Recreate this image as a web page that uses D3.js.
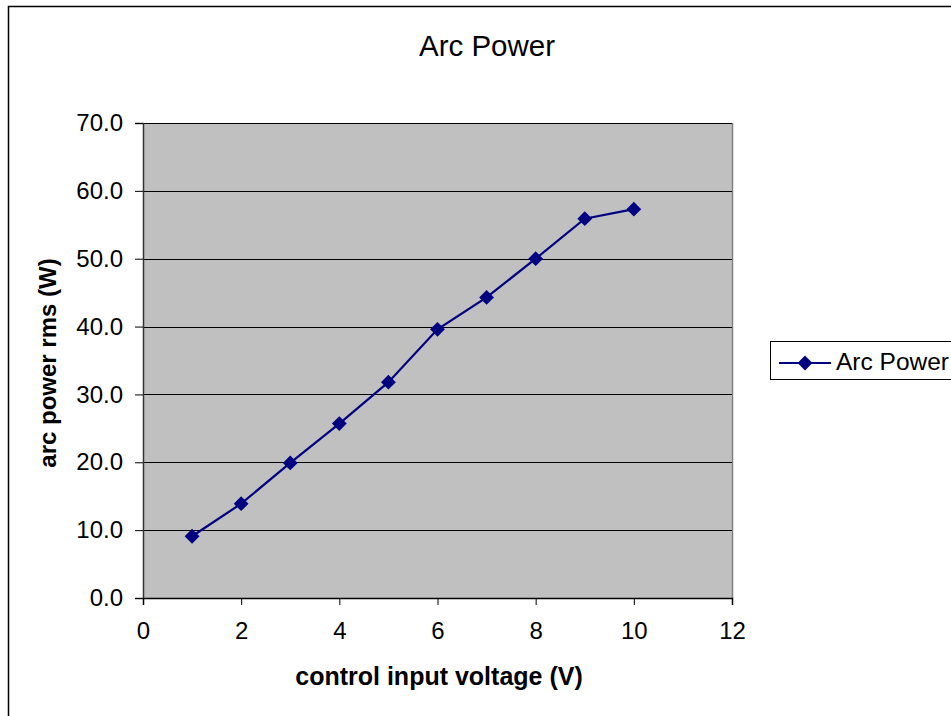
<!DOCTYPE html>
<html>
<head>
<meta charset="utf-8">
<script src="https://cdn.jsdelivr.net/npm/d3@7"></script>
<style>
  html, body { margin: 0; padding: 0; background: #fff; }
  svg { display: block; font-family: "Liberation Sans", Arial, sans-serif; }
</style>
</head>
<body>
<svg id="chart" width="951" height="716"></svg>
<script>
// Arc power measured against control input voltage
const voltage = [1, 2, 3, 4, 5, 6, 7, 8, 9, 10];
const arcPower = [9.1, 13.9, 19.9, 25.7, 31.8, 39.6, 44.3, 50.0, 55.9, 57.3];
const xTicks = [0, 2, 4, 6, 8, 10, 12];
const yTicks = [0, 10, 20, 30, 40, 50, 60, 70];
const seriesName = "Arc Power";

const svg = d3.select("#chart");
const W = 951, H = 716;
const plot = { left: 143, right: 732, top: 123, bottom: 598 };

// outer chart frame (runs past the right and bottom edges of the page)
svg.append("rect")
  .attr("x", 8.5).attr("y", 6.5)
  .attr("width", W + 20).attr("height", H + 20)
  .attr("fill", "#fff").attr("stroke", "#000").attr("stroke-width", 1.5);

const x = d3.scaleLinear().domain([0, 12]).range([plot.left, plot.right]);
const y = d3.scaleLinear().domain([0, 70]).range([plot.bottom, plot.top]);

// plot area background
svg.append("rect")
  .attr("x", plot.left).attr("y", plot.top)
  .attr("width", plot.right - plot.left).attr("height", plot.bottom - plot.top)
  .attr("fill", "#c0c0c0");

// right border of the plot area
svg.append("line")
  .attr("x1", plot.right + 0.5).attr("x2", plot.right + 0.5)
  .attr("y1", plot.top).attr("y2", plot.bottom)
  .attr("stroke", "#808080").attr("stroke-width", 1.5);

// horizontal gridlines
svg.append("g")
  .selectAll("line")
  .data(yTicks.filter(d => d > 0))
  .join("line")
  .attr("x1", plot.left).attr("x2", plot.right)
  .attr("y1", d => Math.round(y(d)) + 0.5).attr("y2", d => Math.round(y(d)) + 0.5)
  .attr("stroke", "#000").attr("stroke-width", 1);

// y axis
const yAxis = svg.append("g")
  .attr("transform", `translate(${plot.left},0)`)
  .call(d3.axisLeft(y).tickValues(yTicks).tickFormat(d3.format(".1f"))
    .tickSize(8).tickPadding(12));
yAxis.select(".domain").attr("stroke", "#333").attr("stroke-width", 1.5);
yAxis.selectAll(".tick line").attr("stroke", "#000");
yAxis.selectAll(".tick text")
  .attr("font-size", 24).attr("fill", "#000")
  .attr("font-family", "Liberation Sans, Arial, sans-serif");

// x axis
const xAxis = svg.append("g")
  .attr("transform", `translate(0,${plot.bottom})`)
  .call(d3.axisBottom(x).tickValues(xTicks).tickFormat(d3.format("d"))
    .tickSize(7).tickPadding(17));
xAxis.select(".domain").attr("stroke", "#000").attr("stroke-width", 1.5);
xAxis.selectAll(".tick line").attr("stroke", "#000");
xAxis.selectAll(".tick text")
  .attr("font-size", 24).attr("fill", "#000")
  .attr("font-family", "Liberation Sans, Arial, sans-serif");

// series line
const line = d3.line().x((d, i) => x(voltage[i])).y(d => y(d));
svg.append("path")
  .datum(arcPower)
  .attr("d", line)
  .attr("fill", "none")
  .attr("stroke", "#000080")
  .attr("stroke-width", 2.2);

// diamond markers
const diamond = d3.symbol().type(d3.symbolDiamond2).size(140);
svg.append("g")
  .selectAll("path")
  .data(arcPower)
  .join("path")
  .attr("d", diamond)
  .attr("transform", (d, i) => `translate(${x(voltage[i])},${y(d)})`)
  .attr("fill", "#000080");

// title
svg.append("text")
  .attr("x", 487).attr("y", 55.5)
  .attr("text-anchor", "middle")
  .attr("font-size", 29.5)
  .text("Arc Power");

// axis titles
svg.append("text")
  .attr("x", 439).attr("y", 685)
  .attr("text-anchor", "middle")
  .attr("font-size", 25).attr("font-weight", "bold")
  .text("control input voltage (V)");

svg.append("text")
  .attr("transform", "translate(56,363) rotate(-90)")
  .attr("text-anchor", "middle")
  .attr("font-size", 24).attr("font-weight", "bold")
  .text("arc power rms (W)");

// legend
const legend = svg.append("g");
legend.append("rect")
  .attr("x", 770.5).attr("y", 341.5)
  .attr("width", 200).attr("height", 38)
  .attr("fill", "#fff").attr("stroke", "#000").attr("stroke-width", 1);
legend.append("line")
  .attr("x1", 779).attr("x2", 831)
  .attr("y1", 363).attr("y2", 363)
  .attr("stroke", "#000080").attr("stroke-width", 2.2);
legend.append("path")
  .attr("d", diamond)
  .attr("transform", "translate(805,363)")
  .attr("fill", "#000080");
legend.append("text")
  .attr("x", 836).attr("y", 369.5)
  .attr("font-size", 24.5)
  .text(seriesName);
</script>
</body>
</html>
